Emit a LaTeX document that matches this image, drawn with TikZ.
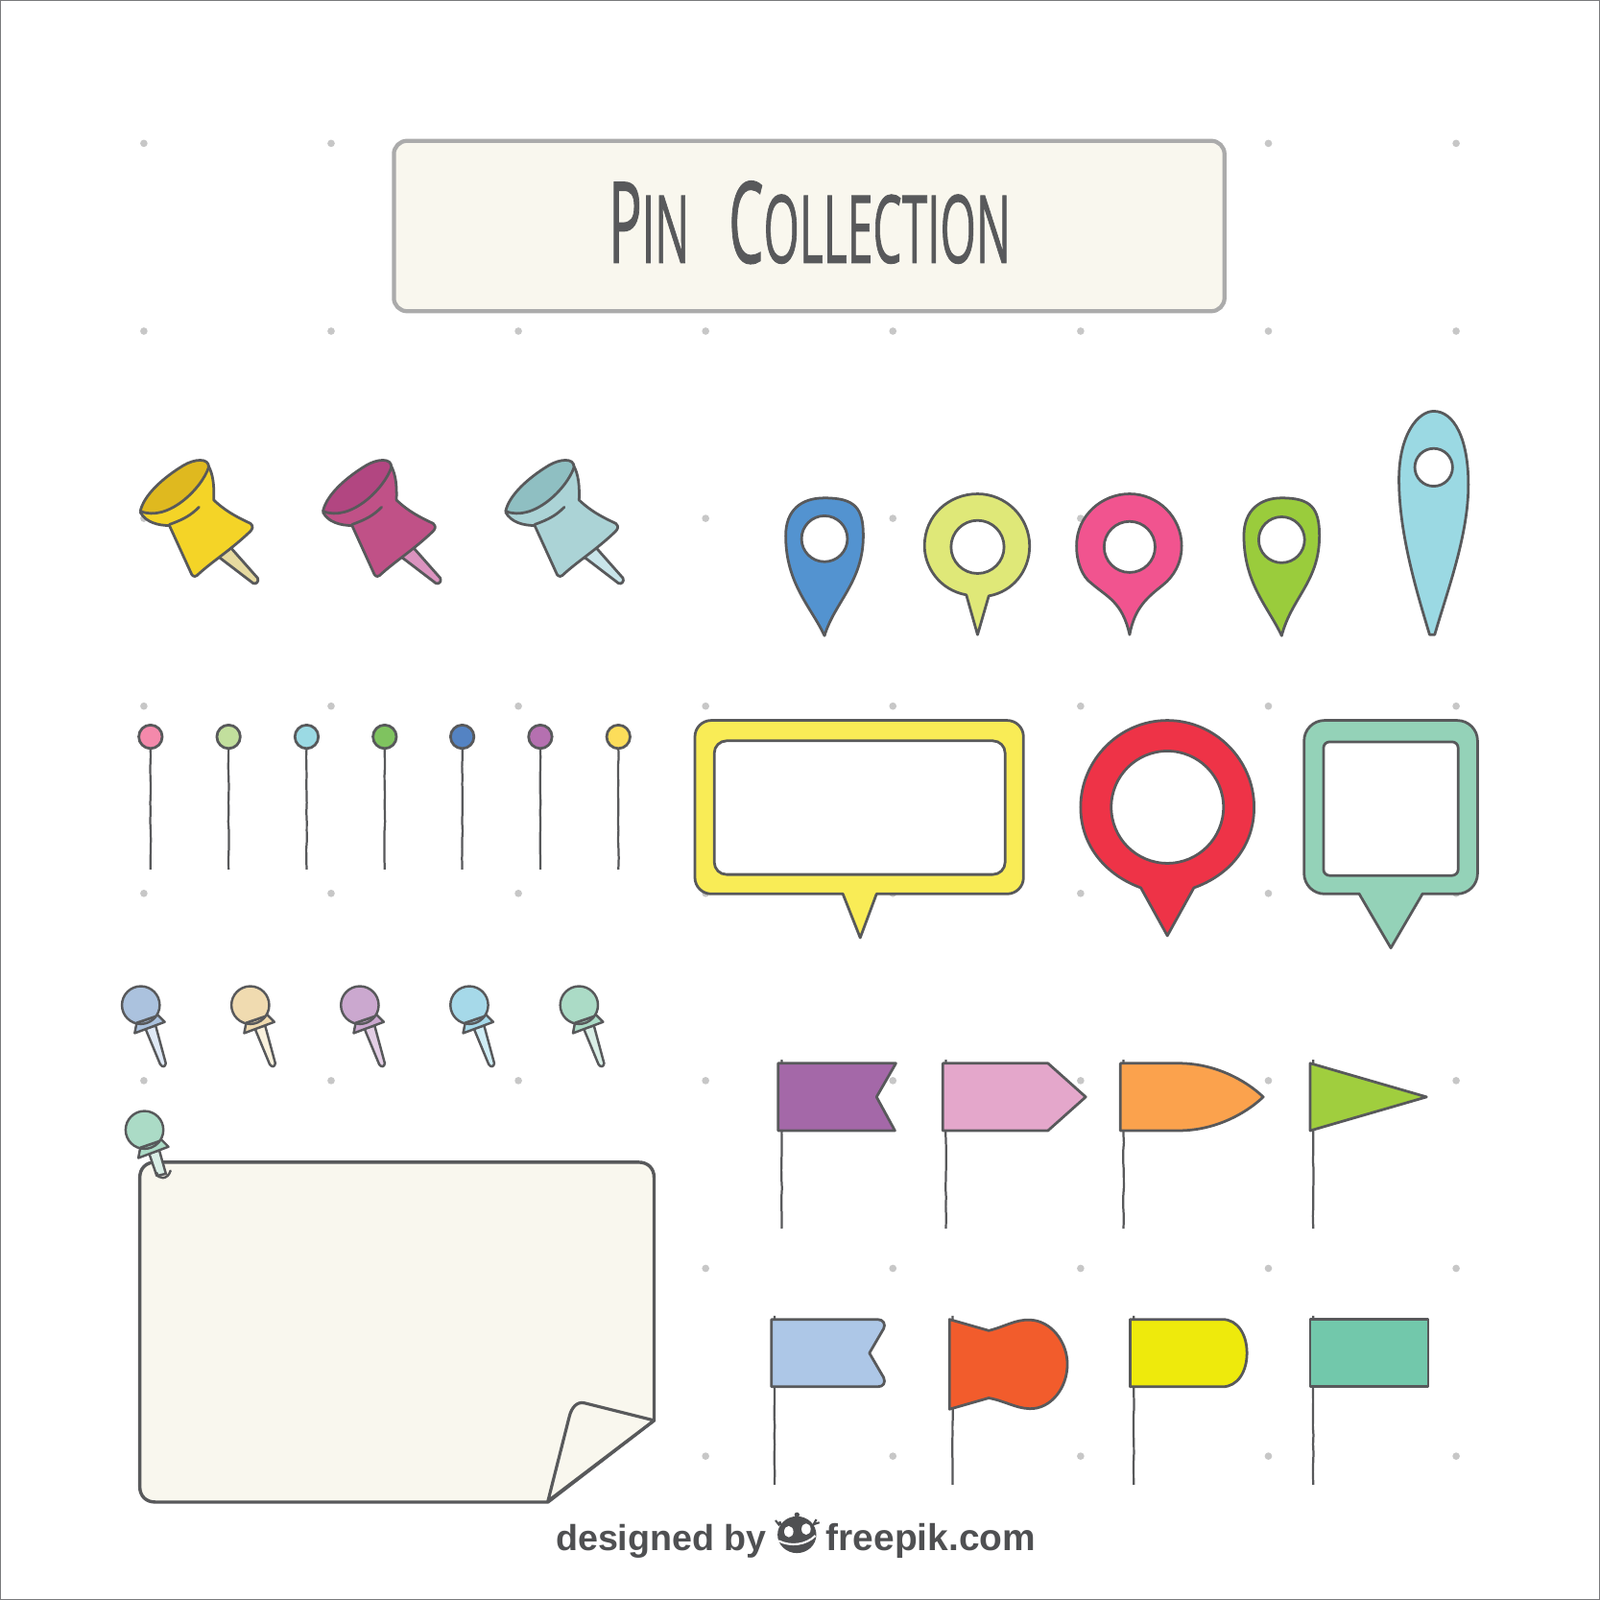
\documentclass[tikz,border=0pt]{standalone}
\usepackage{fontspec}
\usetikzlibrary{decorations.pathmorphing}
\newfontfamily\titlefont[FakeBold=1.2]{Open Sans}
\newfontfamily\footfont{Liberation Sans}
\definecolor{ink}{HTML}{58595B}
\definecolor{paper}{HTML}{F9F7EE}
\definecolor{mapblue}{HTML}{5393D0}
\definecolor{maplime}{HTML}{DFE878}
\definecolor{mappink}{HTML}{F1548F}
\definecolor{mapgreen}{HTML}{9ACC3C}
\definecolor{mapsky}{HTML}{9BD9E3}
\definecolor{bubyellow}{HTML}{F9EC56}
\definecolor{bubred}{HTML}{EE3347}
\definecolor{bubteal}{HTML}{94D2B8}
\definecolor{flagpurple}{HTML}{A468A8}
\definecolor{flagpink}{HTML}{E4A7CB}
\definecolor{flagorange}{HTML}{FBA24D}
\definecolor{flaggreen}{HTML}{A0CE3E}
\definecolor{flagblue}{HTML}{ADC7E7}
\definecolor{flagred}{HTML}{F25C2C}
\definecolor{flagyellow}{HTML}{EEEA0C}
\definecolor{flagteal}{HTML}{72C8AB}
\tikzset{
x=1pt, y=-1pt, % pixel coordinates of the picture, y going down
sketch/.style={draw=ink, line width=2.6pt, line join=round, line cap=round}, % the pen outline
thinsketch/.style={sketch, line width=2.3pt},
griddot/.style={fill=black!22}, % the faint dots behind everything
wobbly/.style={decorate, decoration={random steps, segment length=9pt, amplitude=.4pt}}, % shaky thin line
pole/.style={draw=ink, line width=2.1pt, wobbly},
hole/.style={sketch, fill=white},
}

\begin{document}
\begin{tikzpicture}
\useasboundingbox (0,0) rectangle (1568,1568);
\fill[white] (0,0) rectangle (1568,1568);
\draw[ink!80!white, line width=1.6pt] (0,0) rectangle (1568,1568);

% dots
\foreach \gx in {141,324.5,508,691.5,875,1059,1243,1427}
  \foreach \gy in {324.5,508,692,875.5,1059,1243,1427}
    \fill[griddot] (\gx,\gy) circle (3.6);
\foreach \gx in {141,324.5,1243,1427}
  \fill[griddot] (\gx,140.5) circle (3.6);

% title box
\draw[draw=black!33, line width=4pt, fill=paper, rounded corners=13pt] (386,138) rectangle (1200,305);
\node[ink] (title) at (793.5,218) {\resizebox{394pt}{80pt}{\titlefont\fontsize{30}{30}\selectfont P{\fontsize{25}{25}\selectfont IN} \hspace{.45em}C{\fontsize{25}{25}\selectfont OLLECTION}}};

% push pins
\foreach \dx/\cbody/\crim/\cneedle in {0/F4D427/DFB91F/E6DAA0, 179/C05187/B24681/DB93BF, 358/ABD3D6/8FBFC2/C9E5EA}{
\begin{scope}[shift={(\dx,0)}]
  \definecolor{cb}{HTML}{\cbody}\definecolor{cr}{HTML}{\crim}\definecolor{cn}{HTML}{\cneedle}
  \draw[sketch, fill=cn] (225.5,536) -- (252.5,566.5) .. controls (254,570) and (251,573) .. (248,571.5) -- (212,544) -- cycle;
  \draw[sketch, fill=cb] (204,456) .. controls (209,465) and (210,476) .. (209.5,490)
    .. controls (222,502) and (235,508) .. (245.5,513) .. controls (249,516) and (247,519) .. (245,521)
    .. controls (225,540) and (208,550) .. (193,564) .. controls (190,566) and (188,564) .. (187,561)
    -- (166,515) .. controls (155,515) and (143,512) .. (137.5,502) -- cycle;
  \draw[sketch, fill=cr] (137.5,501) .. controls (141,485) and (160,468) .. (180,456)
    .. controls (190,450) and (205,448) .. (204.5,458) .. controls (198,478) and (165,512) .. (137.5,501) -- cycle;
  \draw[sketch] (166,514) .. controls (180,509) and (187,505) .. (195,497);
\end{scope}
}

% map pins
\draw[sketch, fill=mapblue] (808,623) .. controls (795,595) and (770,572) .. (770,525)
  .. controls (770,500) and (785,488) .. (808,488) .. controls (838,488) and (846,498) .. (846,525)
  .. controls (846,570) and (818,590) .. (808,623) -- cycle;
\draw[hole] (808,528) circle (22.5);
\draw[sketch, fill=maplime] (947,583) .. controls (920,578) and (906,555) .. (906,535)
  .. controls (906,505) and (930,484) .. (958,484) .. controls (986,484) and (1009,507) .. (1009,535)
  .. controls (1009,560) and (992,580) .. (969,584) -- (958,622) -- cycle;
\draw[hole] (958,536) circle (26);
\draw[sketch, fill=mappink] (1107,622) .. controls (1100,590) and (1085,585) .. (1070,572)
  .. controls (1060,565) and (1055,550) .. (1055,535) .. controls (1055,505) and (1080,484) .. (1107,484)
  .. controls (1135,484) and (1158,507) .. (1158,535) .. controls (1158,552) and (1150,565) .. (1140,573)
  .. controls (1125,585) and (1112,595) .. (1107,622) -- cycle;
\draw[hole] (1107,536) circle (25);
\draw[sketch, fill=mapgreen] (1256,623) .. controls (1243,595) and (1219,572) .. (1219,525)
  .. controls (1219,500) and (1235,488) .. (1256,488) .. controls (1285,488) and (1293,498) .. (1293,525)
  .. controls (1293,570) and (1266,585) .. (1256,623) -- cycle;
\draw[hole] (1256,529) circle (22.5);
\draw[sketch, fill=mapsky] (1401,622) .. controls (1390,585) and (1371,525) .. (1371,470)
  .. controls (1371,425) and (1390,403) .. (1405,403) .. controls (1425,403) and (1439,430) .. (1439,475)
  .. controls (1439,525) and (1418,580) .. (1406,622) -- cycle;
\draw[hole] (1405,458) circle (18.5);

% straight pins
\foreach \px/\chead in {147.5/F489AB, 224/C2DF9D, 300.5/9BDAE4, 377/7FC35F, 453/5483C3, 529.5/B570B0, 606/FCDD5A}{
  \definecolor{ch}{HTML}{\chead}
  \draw[pole] (\px,733) -- (\px,852);
  \draw[sketch, fill=ch] (\px,722) circle (11.5);
}

% speech bubbles
\draw[sketch, fill=bubyellow, rounded corners=16pt] (681,706) rectangle (1003,876);
\fill[bubyellow] (826,873.5) -- (843,919) -- (859,873.5) -- cycle;
\draw[sketch] (826,876) -- (843,919) -- (859,876);
\draw[hole, rounded corners=12pt] (700,726) rectangle (985,857);

\draw[sketch, fill=bubred] (1118,870) .. controls (1085,858) and (1059,830) .. (1059,791)
  .. controls (1059,745) and (1097,706) .. (1144,706) .. controls (1191,706) and (1229,745) .. (1229,791)
  .. controls (1229,830) and (1204,858) .. (1170,870) -- (1144,917) -- cycle;
\draw[hole] (1144,791) circle (55);

\draw[sketch, fill=bubteal, rounded corners=20pt] (1278,706) rectangle (1448,876);
\fill[bubteal] (1332,873.5) -- (1363,929) -- (1394,873.5) -- cycle;
\draw[sketch] (1332,876) -- (1363,929) -- (1394,876);
\draw[hole, rounded corners=6pt] (1297,727) rectangle (1429,858);

% tacks
\foreach \dx/\chead/\cneedle in {0/ABC2DE/DFE9F6, 107.3/F0DBB0/F9F1DD, 214.6/CBA8CF/E3CEE5, 321.9/A6D9E9/CFEDF5, 429.5/ABDBC6/D9EEE6}{
\begin{scope}[shift={(\dx,0)}]
  \definecolor{ch}{HTML}{\chead}\definecolor{cn}{HTML}{\cneedle}
  \draw[thinsketch, fill=cn] (142.5,1008) -- (157,1043) .. controls (159,1046) and (162,1046) .. (162.5,1042) -- (152.5,1005) -- cycle;
  \draw[thinsketch, fill=ch] (153,993) -- (161.5,1001.5) -- (132,1012.5) -- (134,1002) -- cycle;
  \draw[thinsketch, fill=ch] (138,985) circle (18.5);
  \draw[draw=ink, line width=2.6pt] (134,1002.5) -- (153,996);
\end{scope}
}

% note sheet
\draw[sketch, line width=3.2pt, fill=paper] (537,1472) -- (152,1472) .. controls (143,1472) and (137,1466) .. (137,1457)
  -- (137,1154) .. controls (137,1145) and (143,1139) .. (152,1139) -- (626,1139)
  .. controls (635,1139) and (641,1145) .. (641,1154) -- (641,1392) -- cycle;
\draw[sketch, line width=3pt, fill=paper] (641,1392) -- (573,1375) .. controls (565,1373) and (560,1380) .. (558,1388) -- (537,1471) -- cycle;

\begin{scope}[shift={(3.6,122.3)}]
  \definecolor{ch}{HTML}{ABDBC6}\definecolor{cn}{HTML}{D9EEE6}
  \draw[thinsketch, fill=cn] (142.5,1008) -- (150,1030) -- (159,1028) -- (152.5,1005) -- cycle;
  \draw[thinsketch] (150,1027) .. controls (151,1034) and (161,1034) .. (163.5,1025);
  \draw[thinsketch, fill=ch] (153,993) -- (161.5,1001.5) -- (132,1012.5) -- (134,1002) -- cycle;
  \draw[thinsketch, fill=ch] (138,985) circle (18.5);
  \draw[draw=ink, line width=2.6pt] (134,1002.5) -- (153,996);
\end{scope}

% flags, first row
\foreach \px in {766,927,1101,1287}
  \draw[pole] (\px,1038.5) -- (\px,1204);
\draw[sketch, fill=flagpurple] (762.5,1042) -- (878,1042) -- (859,1075) -- (877,1108) -- (762.5,1108) -- cycle;
\draw[sketch, fill=flagpink] (924,1042) -- (1027,1042) -- (1064,1075) -- (1027,1108) -- (924,1108) -- cycle;
\draw[sketch, fill=flagorange] (1098,1042) -- (1155,1042) .. controls (1190,1042) and (1220,1058) .. (1238,1075)
  .. controls (1220,1092) and (1190,1108) .. (1155,1108) -- (1098,1108) -- cycle;
\draw[sketch, fill=flaggreen] (1284,1042) -- (1398,1075) -- (1284,1108) -- cycle;

% flags, second row
\foreach \px in {759,933.5,1111,1287}
  \draw[pole] (\px,1289.5) -- (\px,1455);
\draw[sketch, fill=flagblue] (756,1293) -- (860,1293) .. controls (866,1293) and (868,1298) .. (866,1302)
  -- (852,1326) -- (866,1350) .. controls (868,1355) and (866,1359) .. (860,1359) -- (756,1359) -- cycle;
\draw[sketch, fill=flagred] (930.5,1293) -- (969,1304) .. controls (985,1300) and (995,1293) .. (1009,1293.5)
  .. controls (1030,1294) and (1046,1315) .. (1046,1337) .. controls (1046,1360) and (1030,1381) .. (1009,1380.5)
  .. controls (995,1380) and (985,1373) .. (969,1370) -- (930.5,1381) -- cycle;
\draw[sketch, fill=flagyellow] (1107.5,1293) -- (1198,1293) .. controls (1213,1293) and (1222,1308) .. (1222,1326)
  .. controls (1222,1344) and (1213,1359) .. (1198,1359) -- (1107.5,1359) -- cycle;
\draw[sketch, fill=flagteal] (1284,1293) rectangle (1399.5,1359);

% footer
\node[ink!90!black, font=\footfont\bfseries\fontsize{35.4}{35}\selectfont, anchor=base west, inner sep=0pt] (credit) at (544.5,1520) {designed by};
\node[ink!90!black, font=\footfont\bfseries\fontsize{36.6}{35}\selectfont, anchor=base west, inner sep=0pt] (site) at (809.5,1520) {freepik.com};
\fill[ink!90!black] (781,1504) ellipse (19 and 18);
\fill[ink!90!black] (781,1484.5) circle (2.5);
\fill[ink!90!black] (773,1491) rectangle (789,1488);
\draw[ink!90!black, line width=2pt] (768,1500) -- (764,1491) (764,1495) -- (760,1490) (795,1498) -- (800,1489) (797,1494) -- (803,1492);
\fill[white] (773,1501) ellipse (4.5 and 5.5);
\fill[white] (790,1498.5) ellipse (4.5 and 5.5);
\draw[white, line width=2pt] (763,1510) .. controls (775,1516) and (790,1514) .. (799,1505);
\end{tikzpicture}
\end{document}
